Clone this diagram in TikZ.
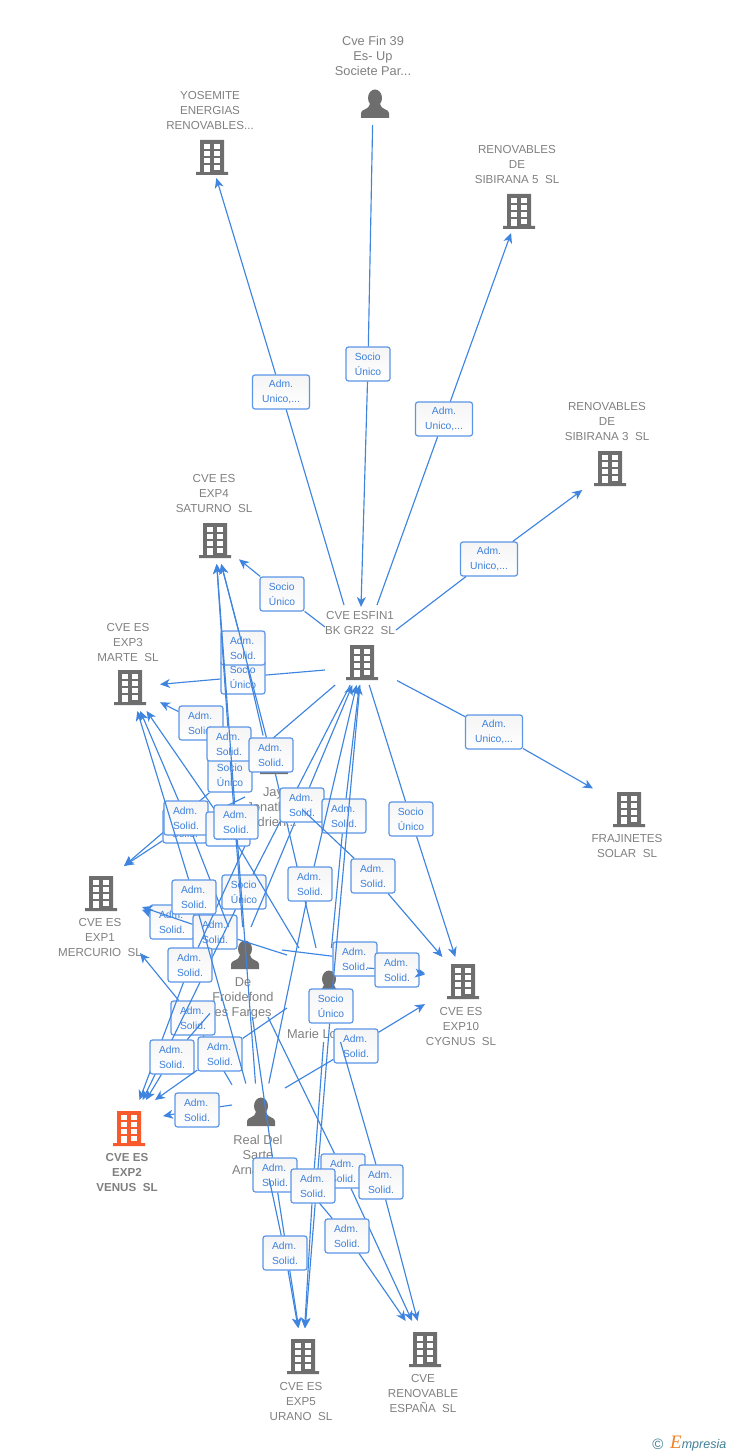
\documentclass[tikz,border=0pt]{standalone}
\usepackage{fontspec}
\setmainfont{Liberation Sans}
\newfontfamily\logoserif{Liberation Serif}
\usetikzlibrary{arrows.meta}
\definecolor{linkblue}{HTML}{3F85E0}
\definecolor{tagblue}{HTML}{5A95E6}
\definecolor{tagtext}{HTML}{3D80DC}
\definecolor{icongray}{HTML}{6E6E6E}
\definecolor{namegray}{HTML}{808080}
\definecolor{venusred}{HTML}{F95A2B}
\definecolor{logoteal}{HTML}{3F7F96}
\definecolor{logoorange}{HTML}{F08020}
\newcommand{\admtag}{Adm.\\Solid.}
\newcommand{\soctag}{Socio\\Único}
\newcommand{\unitag}{Adm.\\Unico,...}
\tikzset{
	link/.style={draw=linkblue,line width=1.15pt,-{Stealth[length=10pt,width=9pt,inset=3pt]}},
	tag/.style={draw=tagblue,line width=1.2pt,rounded corners=2.5pt,top color=black!4,bottom color=white,text=tagtext,font=\fontsize{10.3}{15}\selectfont,align=left,inner sep=0pt,minimum width=44,minimum height=34},
	tagwide/.style={tag,align=center,minimum width=57},
	firmname/.style={text=namegray,font=\fontsize{11.6}{15}\selectfont,align=center,inner sep=0pt},
	manname/.style={firmname,font=\fontsize{12.8}{15}\selectfont},
	port/.style={inner sep=0pt,outer sep=0pt,rectangle},
	pics/tower/.style={code={
		\fill[#1] (-12,-17) rectangle (12,15) (-16,15) rectangle (16,18);
		\foreach \wy in {-13,-6,1,8}{
			\fill[white] (2,\wy) rectangle (8,\wy+5);
		}
		\foreach \wy in {-13,-6,1}{
			\fill[white] (-8,\wy) rectangle (-2,\wy+5);
		}
		\fill[white] (-8,8) rectangle (-2,15);
	}},
	pics/man/.style={code={
		\fill[icongray] (0,-6) ellipse (7 and 8.5);
		\fill[icongray] (-14,14) -- (-14,9) .. controls (-14,5) and (-6,6) .. (-5,0) -- (5,0) .. controls (6,6) and (14,5) .. (14,9) -- (14,14) -- cycle;
	}}
}
\begin{document}
\begin{tikzpicture}[x=1pt,y=-1pt]
	\useasboundingbox (0,0) rectangle (728,1455);

	% firms
	\foreach \ix/\iy/\nx/\ny/\txt in {
		212/157/210/111/{YOSEMITE\\ENERGIAS\\RENOVABLES...},
		519/211/517/165/{RENOVABLES\\DE\\SIBIRANA 5~ SL},
		610/468/607/422/{RENOVABLES\\DE\\SIBIRANA 3~ SL},
		215/540/214/494/{CVE ES\\EXP4\\SATURNO~ SL},
		362/662/360/623.5/{CVE ESFIN1\\BK GR22~ SL},
		130/687/128/643/{CVE ES\\EXP3\\MARTE~ SL},
		629/809/627/845.5/{FRAJINETES\\SOLAR~ SL},
		101/893/100/937/{CVE ES\\EXP1\\MERCURIO~ SL},
		463/981/461/1026/{CVE ES\\EXP10\\CYGNUS~ SL},
		303/1356/301/1401/{CVE ES\\EXP5\\URANO~ SL},
		425/1349/423/1393/{CVE\\RENOVABLE\\ESPAÑA~ SL}}{
		\pic at (\ix,\iy) {tower=icongray};
		\node[firmname] at (\nx,\ny) {\txt};
	}
	\pic at (129,1128) {tower=venusred};
	\node[firmname,font=\fontsize{11.6}{15}\selectfont\bfseries] (venusname) at (127,1172) {CVE ES\\EXP2\\VENUS~ SL};

	% people
	\foreach \ix/\iy/\nx/\ny/\txt in {
		375/104/373/56/{Cve Fin 39\\Es- Up\\Societe Par...},
		274/760/273/807/{Jay\\Jonathan\\Adrien...},
		245/955/243/998/{De\\Froidefond\\Des Farges\hspace*{9pt}},
		329/985/329/1034/{Marie Louise...},
		261/1112/258/1155/{Real Del\\Sarte\\Arnaud...}}{
		\pic at (\ix,\iy) {man};
		\node[manname] at (\nx,\ny) {\txt};
	}

	% borders the connectors stop at
	\node[port,minimum width=80,minimum height=42] (cvefin) at (373,104) {};
	\node[port,minimum width=90,minimum height=42] (yosemite) at (210,157) {};
	\node[port,minimum width=87,minimum height=44] (sibirana5) at (519,211) {};
	\node[port,minimum width=87,minimum height=44] (sibirana3) at (612,468) {};
	\node[port,minimum width=48,minimum height=48] (saturno) at (215,540) {};
	\node[port,minimum width=70,minimum height=46] (esfin) at (362,662) {};
	\node[port,minimum width=60,minimum height=48] (marte) at (130,687) {};
	\node[port,minimum width=72,minimum height=48] (frajinetes) at (629,809) {};
	\node[port,minimum width=82,minimum height=52] (mercurio) at (101,893) {};
	\node[port,minimum width=76,minimum height=48] (cygnus) at (463,981) {};
	\node[port,minimum width=68,minimum height=56] (venus) at (129,1128) {};
	\node[port,minimum width=64,minimum height=56] (urano) at (303,1356) {};
	\node[port,minimum width=70,minimum height=56] (espana) at (425,1349) {};
	\node[port,minimum width=58,minimum height=95] (jay) at (274,783) {};
	\node[port,minimum width=72,minimum height=90] (froidefond) at (246,972) {};
	\node[port,minimum width=80,minimum height=94] (marie) at (327,995) {};
	\node[port,minimum width=54,minimum height=95] (real) at (259,1131) {};

	\coordinate (esfinA) at (344,605);
	\coordinate (esfinB) at (361,607);
	\coordinate (esfinC) at (377,605);
	\coordinate (esfinD) at (396,630);
	\coordinate (esfinE) at (325,627);
	\coordinate (esfinF) at (325,670);
	\coordinate (mercurioA) at (124,866);
	\coordinate (mercurioB) at (140,953);
	\coordinate (venusA) at (155,1100);
	\coordinate (venusB) at (163,1116);
	\coordinate (froidefondA) at (282,950);
	\coordinate (froidefondB) at (251,927);
	\coordinate (marieA) at (287,955);
	\coordinate (marieB) at (287,1008);
	\coordinate (marieC) at (367,968);
	\coordinate (realA) at (232,1105);
	\coordinate (realB) at (285,1088);

	% the upper links
	\foreach \src/\lbl/\lx/\ly/\dst in {
		esfinA/uni1/281/392/yosemite,
		esfinC/uni2/444/419/sibirana5,
		esfinD/uni3/489/559/sibirana3,
		esfin/uni4/494/732/frajinetes}{
		\node[tagwide] (\lbl) at (\lx,\ly) {\unitag};
		\draw[link] (\src) -- (\lbl) -- (\dst);
	}

	% the other links, in the order they overlap
	\foreach \src/\lbl/\lx/\ly/\txt/\dst in {
		cvefin/soc1/368/364/\soctag/esfinB,
		esfin/soc2/230/775/\soctag/mercurioA,
		jay/adm1/185/826/\admtag/mercurioA,
		froidefond/adm2/172/922/\admtag/mercurio,
		marieA/adm3/215/932/\admtag/mercurio,
		real/adm4/193/1018/\admtag/mercurioB,
		esfin/soc3/244/892/\soctag/venus,
		jay/adm5/190/965/\admtag/venus,
		froidefond/adm6/172/1057/\admtag/venus,
		marieB/adm7/220/1054/\admtag/venusA,
		realA/adm8/197/1110/\admtag/venusB,
		esfinF/soc4/243/677/\soctag/marte,
		jay/adm9/201/723/\admtag/marte,
		froidefond/adm10/186/818/\admtag/marte,
		marie/adm11/228/829/\admtag/marte,
		real/adm12/194/897/\admtag/marte,
		esfinE/soc5/282/594/\soctag/saturno,
		jay/adm13/243/648/\admtag/saturno,
		froidefond/adm14/229/744/\admtag/saturno,
		marie/adm15/271/755/\admtag/saturno,
		real/adm16/236/822/\admtag/saturno,
		froidefondB/adm17/302/805/\admtag/esfin,
		marie/adm18/344/816/\admtag/esfin,
		real/adm19/310/884/\admtag/esfin,
		esfin/soc6/411/819/\soctag/cygnus,
		jay/adm20/373/876/\admtag/cygnus,
		froidefondA/adm21/355/959/\admtag/cygnus,
		marieC/adm22/397/970/\admtag/cygnus,
		realB/adm23/356/1046/\admtag/cygnus,
		froidefond/adm24/343/1171/\admtag/espana,
		marie/adm25/381/1182/\admtag/espana,
		real/adm26/347/1236/\admtag/espana,
		esfin/soc7/331/1006/\soctag/urano,
		froidefond/adm27/275/1175/\admtag/urano,
		marie/adm28/313/1186/\admtag/urano,
		real/adm29/285/1253/\admtag/urano}{
		\node[tag] (\lbl) at (\lx,\ly) {\txt};
		\draw[link] (\src) -- (\lbl) -- (\dst);
	}

	% logo
	\node[text=logoteal,font=\fontsize{15}{15}\selectfont,inner sep=0pt] (copymark) at (658,1444) {©};
	\node[text=logoteal,font=\fontsize{12.5}{12.5}\selectfont\itshape,inner sep=0pt,anchor=west] (brand) at (670,1444) {{\logoserif\color{logoorange}\fontsize{19}{19}\selectfont E}mpresia};
\end{tikzpicture}
\end{document}
